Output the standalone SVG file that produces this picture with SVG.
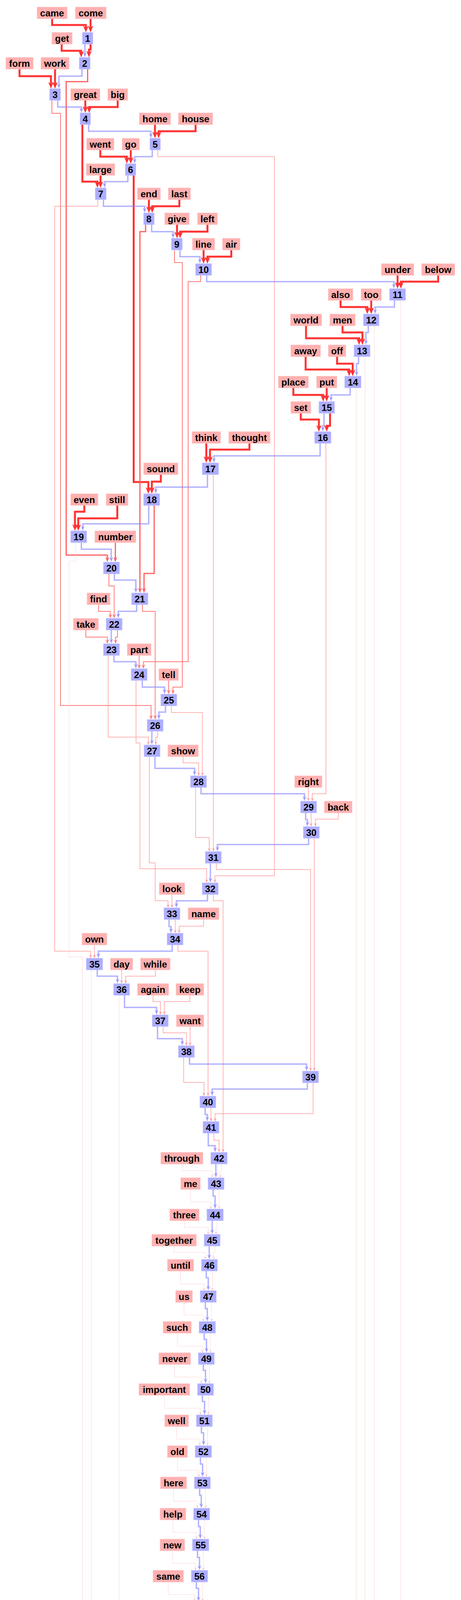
<svg xmlns="http://www.w3.org/2000/svg" width="1181" height="6073" viewBox="0 0 1181 6073">
<style>
.n rect{fill:#adadff;stroke:#c8c8ff;stroke-width:1}
.w rect{fill:#ffb0b0;stroke:#ffc8c8;stroke-width:1}
text{font-family:"Liberation Sans",Arial,sans-serif;font-weight:bold;font-size:24px;text-anchor:middle;fill:#000}
polyline{fill:none;stroke-linejoin:miter}
.e5{stroke:#ff3333;stroke-width:5;marker-end:url(#a5)}
.e3{stroke:#ff5f5f;stroke-width:3;marker-end:url(#a3)}
.e2{stroke:#ff7a7a;stroke-width:2;marker-end:url(#a2)}
.e15{stroke:#ff9c9c;stroke-width:1.5;marker-end:url(#a15)}
.e1{stroke:#ffd2d2;stroke-width:1;marker-end:url(#a1)}
.b{stroke:#7f7fff;stroke-opacity:.6;stroke-width:3.5;marker-end:url(#ab)}
</style>
<defs>
<marker id="a5" viewBox="0 -8 18 16" markerWidth="18" markerHeight="16" refX="9" refY="0" orient="auto" markerUnits="userSpaceOnUse"><path d="M0,-7L17,0L0,7L5,0Z" fill="#ff3333"/></marker>
<marker id="a3" viewBox="0 -6 14 12" markerWidth="14" markerHeight="12" refX="7" refY="0" orient="auto" markerUnits="userSpaceOnUse"><path d="M0,-5L13,0L0,5L4,0Z" fill="#ff5f5f"/></marker>
<marker id="a2" viewBox="0 -5 12 10" markerWidth="12" markerHeight="10" refX="6" refY="0" orient="auto" markerUnits="userSpaceOnUse"><path d="M0,-4.5L11,0L0,4.5L3.5,0Z" fill="#ff7a7a"/></marker>
<marker id="a15" viewBox="0 -4 10 8" markerWidth="10" markerHeight="8" refX="5" refY="0" orient="auto" markerUnits="userSpaceOnUse"><path d="M0,-3.5L9,0L0,3.5L3,0Z" fill="#ff9c9c"/></marker>
<marker id="a1" viewBox="0 -4 9 8" markerWidth="9" markerHeight="8" refX="5" refY="0" orient="auto" markerUnits="userSpaceOnUse"><path d="M0,-3.5L8,0L0,3.5L3,0Z" fill="#ffc8c8"/></marker>
<marker id="ab" viewBox="0 -6 14 12" markerWidth="14" markerHeight="12" refX="7" refY="0" orient="auto" markerUnits="userSpaceOnUse"><path d="M0,-5L13,0L0,5L4,0Z" fill="#7f7fff" fill-opacity=".6"/></marker>
</defs>
<g id="connectors">
<polyline class="e5" points="133.5,48 133.5,64 220,64 220,75"/>
<polyline class="e5" points="232,48 232,75"/>
<polyline class="e5" points="158,113 158,130 208,130 208,139"/>
<polyline class="b" points="217.5,113 217.5,141"/>
<polyline class="e5" points="232,113 232,127 228,127 228,139"/>
<polyline class="e5" points="50,177 50,195 130.5,195 130.5,219"/>
<polyline class="e5" points="141,177 141,219"/>
<polyline class="b" points="210,177 210,195 151,195 151,221"/>
<polyline class="e3" points="224.5,177 224.5,209 169.5,209 169.5,1421 275,1421 275,1433"/>
<polyline class="b" points="148,257 148,274 208.5,274 208.5,283"/>
<polyline class="e5" points="218.5,257 218.5,281"/>
<polyline class="e5" points="301.5,257 301.5,274 228.5,274 228.5,281"/>
<polyline class="e2" points="133,257 133,290 155,290 155,1806 387,1806 387,1837"/>
<polyline class="b" points="227,319 227,336 386.5,336 386.5,348"/>
<polyline class="e5" points="397,319 397,346"/>
<polyline class="e5" points="501,319 501,336 406.5,336 406.5,346"/>
<polyline class="e5" points="211,319 211,465 249.5,465 249.5,473"/>
<polyline class="b" points="390,384 390,401 345,401 345,413"/>
<polyline class="e5" points="257,384 257,401 325,401 325,411"/>
<polyline class="e5" points="335,384 335,411"/>
<polyline class="e15" points="404,384 404,401 703,401 703,2242 550.5,2242 550.5,2256"/>
<polyline class="b" points="327.5,449 327.5,465 268,465 268,475"/>
<polyline class="e5" points="257.5,449 257.5,473"/>
<polyline class="e5" points="342.5,449 342.5,1234 380,1234 380,1256"/>
<polyline class="b" points="265,511 265,528 370.5,528 370.5,539"/>
<polyline class="e5" points="381.5,511 381.5,537"/>
<polyline class="e5" points="459.5,511 459.5,528 390,528 390,537"/>
<polyline class="e15" points="250.5,511 250.5,528 140,528 140,2435 232,2435 232,2449"/>
<polyline class="b" points="388.5,575 388.5,593 443.5,593 443.5,604"/>
<polyline class="e5" points="453.5,575 453.5,602"/>
<polyline class="e5" points="531.5,575 531.5,593 461.5,593 461.5,602"/>
<polyline class="e3" points="373,575 373,593 358.5,593 358.5,1512"/>
<polyline class="b" points="461,640 461,657 512,657 512,669"/>
<polyline class="e5" points="521.5,640 521.5,667"/>
<polyline class="e5" points="592.5,640 592.5,657 531.5,657 531.5,667"/>
<polyline class="e2" points="447,640 447,672 467,672 467,1759 443,1759 443,1772"/>
<polyline class="b" points="529.5,705 529.5,721 1009,721 1009,733"/>
<polyline class="e5" points="1018.5,705 1018.5,731"/>
<polyline class="e5" points="1122.5,705 1122.5,721 1027,721 1027,731"/>
<polyline class="e2" points="514,705 514,721 482,721 482,1694 367.5,1694 367.5,1707"/>
<polyline class="b" points="1010.5,769 1010.5,786 961,786 961,798"/>
<polyline class="e5" points="872.5,769 872.5,786 941,786 941,796"/>
<polyline class="e5" points="951,769 951,796"/>
<polyline class="e1" points="1026,769 1026,5378 702,5378 702,5395"/>
<polyline class="b" points="943.5,834 943.5,851 937.5,851 937.5,877"/>
<polyline class="e5" points="784,834 784,866 920,866 920,875"/>
<polyline class="e5" points="877.5,834 877.5,851 928.5,851 928.5,875"/>
<polyline class="e1" points="959,834 959,5940 890,5940 890,5957"/>
<polyline class="b" points="918.5,913 918.5,931 913.5,931 913.5,957"/>
<polyline class="e5" points="783,913 783,946 894.5,946 894.5,955"/>
<polyline class="e5" points="863.5,913 863.5,931 903.5,931 903.5,955"/>
<polyline class="e1" points="935,913 935,4960 586.5,4960 586.5,4978"/>
<polyline class="b" points="897,993 897,1011 848,1011 848,1022"/>
<polyline class="e5" points="751.5,993 751.5,1011 828,1011 828,1020"/>
<polyline class="e5" points="837,993 837,1020"/>
<polyline class="e1" points="912.5,993 912.5,5634"/>
<polyline class="b" points="830,1058 830,1090 827,1090 827,1099"/>
<polyline class="e5" points="845.5,1058 845.5,1090 837,1090 837,1097"/>
<polyline class="e5" points="770.5,1058 770.5,1074 817,1074 817,1097"/>
<polyline class="b" points="820,1135 820,1167 548,1167 548,1179"/>
<polyline class="e5" points="528.5,1135 528.5,1177"/>
<polyline class="e5" points="639,1135 639,1151 538,1151 538,1177"/>
<polyline class="e15" points="835,1135 835,2032 800,2032 800,2047"/>
<polyline class="e5" points="412,1215 412,1233 389,1233 389,1256"/>
<polyline class="b" points="531.5,1215 531.5,1247 399,1247 399,1258"/>
<polyline class="e15" points="546.5,1215 546.5,2176"/>
<polyline class="b" points="381,1294 381,1341 212,1341 212,1353"/>
<polyline class="e3" points="395,1294 395,1468 369,1468 369,1512"/>
<polyline class="e5" points="216,1294 216,1310 192,1310 192,1351"/>
<polyline class="e5" points="300.5,1294 300.5,1327 200.5,1327 200.5,1351"/>
<polyline class="b" points="208.5,1389 208.5,1406 285,1406 285,1433"/>
<polyline class="e3" points="295.5,1389 295.5,1433"/>
<polyline class="e1" points="194,1389 194,1437 177,1437 177,2450 211.5,2450 211.5,4688 455.5,4688 455.5,4705"/>
<polyline class="b" points="293,1469 293,1485 348,1485 348,1512"/>
<polyline class="e2" points="279,1469 279,1500 292.5,1500 292.5,1578"/>
<polyline class="e2" points="252.5,1548 252.5,1565 282.5,1565 282.5,1578"/>
<polyline class="b" points="350,1548 350,1565 303,1565 303,1577"/>
<polyline class="e2" points="365,1548 365,1565 397.5,1565 397.5,1837"/>
<polyline class="e2" points="220,1613 220,1631 275,1631 275,1643"/>
<polyline class="b" points="285,1613 285,1642"/>
<polyline class="e2" points="301,1613 301,1631 296,1631 296,1643"/>
<polyline class="b" points="292,1678 292,1694 348,1694 348,1706"/>
<polyline class="e2" points="356.5,1678 356.5,1707"/>
<polyline class="e15" points="277,1678 277,1887 380,1887 380,1903"/>
<polyline class="b" points="364.5,1742 364.5,1759 421.5,1759 421.5,1771"/>
<polyline class="e2" points="432,1742 432,1772"/>
<polyline class="e15" points="348.5,1742 348.5,1902 358.5,1902 358.5,2224 529.5,2224 529.5,2256"/>
<polyline class="b" points="424,1807 424,1823 407,1823 407,1836"/>
<polyline class="e15" points="439,1807 439,1824 518.5,1824 518.5,1982"/>
<polyline class="b" points="389,1872 389,1901"/>
<polyline class="e15" points="404,1872 404,1887 399,1887 399,1903"/>
<polyline class="b" points="397,1937 397,1967 498.5,1967 498.5,1980"/>
<polyline class="e15" points="469,1937 469,1953 509,1953 509,1982"/>
<polyline class="e15" points="382.5,1937 382.5,2209 397.5,2209 397.5,2306 430.5,2306 430.5,2320"/>
<polyline class="b" points="515,2016 515,2032 780,2032 780,2045"/>
<polyline class="e15" points="790,2016 790,2047"/>
<polyline class="e15" points="501,2016 501,2144 536,2144 536,2176"/>
<polyline class="b" points="783,2081 783,2098 787.5,2098 787.5,2110"/>
<polyline class="e15" points="797,2081 797,2112"/>
<polyline class="e15" points="866.5,2081 866.5,2097 808,2097 808,2112"/>
<polyline class="b" points="790.5,2146 790.5,2162 557,2162 557,2174"/>
<polyline class="e15" points="805,2146 805,2738"/>
<polyline class="b" points="539,2210 539,2254"/>
<polyline class="e15" points="554,2210 554,2226 795.5,2226 795.5,2738"/>
<polyline class="e15" points="440.5,2290 440.5,2320"/>
<polyline class="b" points="531.5,2290 531.5,2306 452,2306 452,2318"/>
<polyline class="e15" points="546.5,2290 546.5,2306 571.5,2306 571.5,2946"/>
<polyline class="b" points="433,2354 433,2372 438,2372 438,2383"/>
<polyline class="e15" points="449,2354 449,2385"/>
<polyline class="e15" points="521.5,2354 521.5,2371 459,2371 459,2385"/>
<polyline class="e15" points="242,2419 242,2449"/>
<polyline class="b" points="441,2419 441,2435 252,2435 252,2447"/>
<polyline class="e15" points="456,2419 456,2435 533,2435 533,2802"/>
<polyline class="b" points="249,2483 249,2499 301,2499 301,2512"/>
<polyline class="e15" points="311.5,2483 311.5,2514"/>
<polyline class="e15" points="398,2483 398,2499 322,2499 322,2514"/>
<polyline class="e1" points="234,2483 234,4704 434.5,4704 434.5,5236 586.5,5236 586.5,5252"/>
<polyline class="b" points="319,2548 319,2579 401,2579 401,2592"/>
<polyline class="e15" points="392,2548 392,2564 411,2564 411,2594"/>
<polyline class="e15" points="486.5,2548 486.5,2564 421,2564 421,2594"/>
<polyline class="e1" points="305,2548 305,4674 638,4674 638,4896 579,4896 579,4913"/>
<polyline class="b" points="403.5,2628 403.5,2659 467,2659 467,2671"/>
<polyline class="e15" points="418,2628 418,2644 477.5,2644 477.5,2673"/>
<polyline class="e15" points="487,2628 487,2673"/>
<polyline class="b" points="485.5,2707 485.5,2724 785.5,2724 785.5,2736"/>
<polyline class="e15" points="470.5,2707 470.5,2771 522.5,2771 522.5,2802"/>
<polyline class="b" points="787.5,2772 787.5,2788 543.5,2788 543.5,2800"/>
<polyline class="e15" points="802,2772 802,2851 551,2851 551,2867"/>
<polyline class="b" points="525.5,2836 525.5,2853 531,2853 531,2865"/>
<polyline class="e15" points="540.5,2836 540.5,2867"/>
<polyline class="b" points="533.5,2901 533.5,2933 551,2933 551,2944"/>
<polyline class="e15" points="548,2901 548,2919 561,2919 561,2946"/>
<polyline class="b" points="553,2980 553,3009"/>
<polyline class="e1" points="466,2980 466,2997 543.5,2997 543.5,3012"/>
<polyline class="e1" points="567.5,2980 567.5,2997 564,2997 564,3012"/>
<polyline class="b" points="546,3045 546,3062 551,3062 551,3089"/>
<polyline class="e1" points="488,3045 488,3077 540.5,3077 540.5,3092"/>
<polyline class="e1" points="561,3045 561,3092"/>
<polyline class="b" points="543.5,3125 543.5,3154"/>
<polyline class="e1" points="472.5,3125 472.5,3142 533.5,3142 533.5,3157"/>
<polyline class="e1" points="556.5,3125 556.5,3142 553.5,3142 553.5,3157"/>
<polyline class="b" points="536,3190 536,3218"/>
<polyline class="e1" points="446,3190 446,3206 526,3206 526,3221"/>
<polyline class="e1" points="550.5,3190 550.5,3206 546.5,3206 546.5,3221"/>
<polyline class="b" points="528.5,3254 528.5,3271 533.5,3271 533.5,3298"/>
<polyline class="e1" points="462.5,3254 462.5,3287 523,3287 523,3301"/>
<polyline class="e1" points="544,3254 544,3301"/>
<polyline class="b" points="526,3334 526,3350 531,3350 531,3377"/>
<polyline class="e1" points="471.5,3334 471.5,3366 521,3366 521,3380"/>
<polyline class="e1" points="542,3334 542,3380"/>
<polyline class="b" points="523,3413 523,3429 529,3429 529,3457"/>
<polyline class="e1" points="454,3413 454,3446 518.5,3446 518.5,3460"/>
<polyline class="e1" points="539,3413 539,3460"/>
<polyline class="b" points="521,3493 521,3508 526.5,3508 526.5,3536"/>
<polyline class="e1" points="447.5,3493 447.5,3525 516,3525 516,3539"/>
<polyline class="e1" points="536.5,3493 536.5,3539"/>
<polyline class="b" points="518.5,3572 518.5,3588 524,3588 524,3616"/>
<polyline class="e1" points="421,3572 421,3605 513.5,3605 513.5,3619"/>
<polyline class="e1" points="534,3572 534,3619"/>
<polyline class="b" points="516,3652 516,3668 521.5,3668 521.5,3695"/>
<polyline class="e1" points="452.5,3652 452.5,3684 511.5,3684 511.5,3698"/>
<polyline class="e1" points="531.5,3652 531.5,3698"/>
<polyline class="b" points="513.5,3731 513.5,3748 519,3748 519,3775"/>
<polyline class="e1" points="454.5,3731 454.5,3764 509,3764 509,3778"/>
<polyline class="e1" points="529,3731 529,3778"/>
<polyline class="b" points="511.5,3811 511.5,3828 515.5,3828 515.5,3855"/>
<polyline class="e1" points="444.5,3811 444.5,3843 505.5,3843 505.5,3858"/>
<polyline class="e1" points="526.5,3811 526.5,3858"/>
<polyline class="b" points="508.5,3891 508.5,3908 513,3908 513,3934"/>
<polyline class="e1" points="443,3891 443,3923 503,3923 503,3937"/>
<polyline class="e1" points="523,3891 523,3937"/>
<polyline class="b" points="506,3970 506,3987 511,3987 511,4014"/>
<polyline class="e1" points="441.5,3970 441.5,4002 501,4002 501,4017"/>
<polyline class="e1" points="521,3970 521,4017"/>
<polyline class="b" points="503,4050 503,4066 508.5,4066 508.5,4094"/>
<polyline class="e1" points="431,4050 431,4082 498.5,4082 498.5,4097"/>
<polyline class="e1" points="518.5,4050 518.5,4097"/>
<polyline class="b" points="501,4130 501,4146 506,4146 506,4174"/>
<polyline class="e1" points="440.5,4130 440.5,4162 496,4162 496,4177"/>
<polyline class="e1" points="516,4130 516,4177"/>
<polyline class="b" points="498.5,4210 498.5,4226 504,4226 504,4253"/>
<polyline class="e1" points="434,4210 434,4241 493,4241 493,4256"/>
<polyline class="e1" points="513.5,4210 513.5,4256"/>
<polyline class="b" points="495.5,4289 495.5,4305 501,4305 501,4333"/>
<polyline class="e1" points="430.5,4289 430.5,4321 491,4321 491,4336"/>
<polyline class="e1" points="511,4289 511,4336"/>
<polyline class="b" points="493,4369 493,4384 495.5,4384 495.5,4412"/>
<polyline class="e1" points="426,4369 426,4401 485,4401 485,4415"/>
<polyline class="e1" points="508.5,4369 508.5,4401 505.5,4401 505.5,4415"/>
<polyline class="b" points="488,4448 488,4477"/>
<polyline class="e1" points="384.5,4448 384.5,4465 478,4465 478,4480"/>
<polyline class="e1" points="502.5,4448 502.5,4465 498,4465 498,4480"/>
<polyline class="b" points="480.5,4513 480.5,4542"/>
<polyline class="e1" points="419.5,4513 419.5,4530 470.5,4530 470.5,4545"/>
<polyline class="e1" points="495,4513 495,4530 490.5,4530 490.5,4545"/>
<polyline class="b" points="473,4578 473,4606"/>
<polyline class="e1" points="400,4578 400,4594 462.5,4594 462.5,4609"/>
<polyline class="e1" points="488,4578 488,4594 482.5,4594 482.5,4609"/>
<polyline class="b" points="465.5,4642 465.5,4702"/>
<polyline class="e1" points="480.5,4642 480.5,4659 476,4659 476,4705"/>
<polyline class="b" points="458,4738 458,4756 462.5,4756 462.5,4766"/>
<polyline class="e1" points="473,4738 473,4769"/>
<polyline class="e1" points="543.5,4738 543.5,4755 483,4755 483,4769"/>
<polyline class="b" points="465,4802 465,4833 550.5,4833 550.5,4845"/>
<polyline class="e1" points="480.5,4802 480.5,4818 561,4818 561,4848"/>
<polyline class="e1" points="571,4802 571,4848"/>
<polyline class="b" points="553,4881 553,4900 558,4900 558,4910"/>
<polyline class="e1" points="569,4881 569,4913"/>
<polyline class="b" points="561,4946 561,4964 566,4964 566,4975"/>
<polyline class="e1" points="576.5,4946 576.5,4978"/>
<polyline class="b" points="568.5,5011 568.5,5029 573.5,5029 573.5,5040"/>
<polyline class="e1" points="583.5,5011 583.5,5043"/>
<polyline class="e1" points="672.5,5011 672.5,5027 594,5027 594,5043"/>
<polyline class="b" points="576,5076 576,5093 581,5093 581,5104"/>
<polyline class="e1" points="591,5076 591,5107"/>
<polyline class="e1" points="664,5076 664,5092 601,5092 601,5107"/>
<polyline class="b" points="583.5,5140 583.5,5157 589,5157 589,5168"/>
<polyline class="e1" points="599,5140 599,5171"/>
<polyline class="e1" points="665.5,5140 665.5,5156 609,5156 609,5171"/>
<polyline class="b" points="590.5,5204 590.5,5219 596,5219 596,5249"/>
<polyline class="e1" points="606,5204 606,5252"/>
<polyline class="b" points="587.5,5285 587.5,5316 674.5,5316 674.5,5328"/>
<polyline class="e1" points="603,5285 603,5301 684,5301 684,5331"/>
<polyline class="e1" points="693.5,5285 693.5,5331"/>
<polyline class="b" points="677,5364 677,5381 681.5,5381 681.5,5392"/>
<polyline class="e1" points="692,5364 692,5395"/>
<polyline class="b" points="682.5,5428 682.5,5460 770,5460 770,5472"/>
<polyline class="e1" points="698.5,5428 698.5,5445 780,5445 780,5475"/>
<polyline class="e1" points="789,5428 789,5475"/>
<polyline class="b" points="771,5508 771,5540 841,5540 841,5551"/>
<polyline class="e1" points="786,5508 786,5524 851,5524 851,5554"/>
<polyline class="e1" points="861,5508 861,5554"/>
<polyline class="b" points="843,5587 843,5618 892.5,5618 892.5,5631"/>
<polyline class="e1" points="857.5,5587 857.5,5604 902,5604 902,5634"/>
<polyline class="b" points="894.5,5667 894.5,5696"/>
<polyline class="e1" points="909,5667 909,5684 904.5,5684 904.5,5699"/>
<polyline class="e1" points="812,5667 812,5684 884.5,5684 884.5,5699"/>
<polyline class="b" points="887.5,5732 887.5,5760"/>
<polyline class="e1" points="902,5732 902,5748 897.5,5748 897.5,5763"/>
<polyline class="e1" points="825,5732 825,5748 877.5,5748 877.5,5763"/>
<polyline class="b" points="880,5796 880,5825"/>
<polyline class="e1" points="894.5,5796 894.5,5813 890,5813 890,5828"/>
<polyline class="e1" points="793.5,5796 793.5,5813 870,5813 870,5828"/>
<polyline class="b" points="872,5861 872,5890"/>
<polyline class="e1" points="887.5,5861 887.5,5878 883,5878 883,5893"/>
<polyline class="e1" points="790.5,5861 790.5,5878 862,5878 862,5893"/>
<polyline class="b" points="864,5926 864,5940 870,5940 870,5954"/>
<polyline class="e1" points="880,5926 880,5957"/>
<polyline class="b" points="872,5990 872,6007 877,6007 877,6019"/>
<polyline class="e1" points="887.5,5990 887.5,6022"/>
<polyline class="e1" points="960.5,5990 960.5,6007 897,6007 897,6022"/>
</g>
<g id="nodes">
<g id="n1" class="n"><rect x="211" y="83" width="27" height="30"/><text x="224.5" y="107">1</text></g>
<g id="n2" class="n"><rect x="203" y="147" width="28" height="30"/><text x="217" y="171">2</text></g>
<g id="n3" class="n"><rect x="127" y="227" width="28" height="30"/><text x="141" y="251">3</text></g>
<g id="n4" class="n"><rect x="205" y="289" width="27" height="30"/><text x="218.5" y="313">4</text></g>
<g id="n5" class="n"><rect x="384" y="354" width="27" height="30"/><text x="397.5" y="378">5</text></g>
<g id="n6" class="n"><rect x="321" y="419" width="27" height="30"/><text x="334.5" y="443">6</text></g>
<g id="n7" class="n"><rect x="244" y="481" width="28" height="30"/><text x="258" y="505">7</text></g>
<g id="n8" class="n"><rect x="368" y="545" width="27" height="30"/><text x="381.5" y="569">8</text></g>
<g id="n9" class="n"><rect x="439" y="610" width="28" height="30"/><text x="453" y="634">9</text></g>
<g id="n10" class="n"><rect x="501" y="675" width="41" height="30"/><text x="521.5" y="699">10</text></g>
<g id="n11" class="n"><rect x="998" y="739" width="41" height="30"/><text x="1018.5" y="763">11</text></g>
<g id="n12" class="n"><rect x="931" y="804" width="40" height="30"/><text x="951" y="828">12</text></g>
<g id="n13" class="n"><rect x="907" y="883" width="41" height="30"/><text x="927.5" y="907">13</text></g>
<g id="n14" class="n"><rect x="883" y="963" width="42" height="30"/><text x="904" y="987">14</text></g>
<g id="n15" class="n"><rect x="817" y="1028" width="40" height="30"/><text x="837" y="1052">15</text></g>
<g id="n16" class="n"><rect x="806" y="1105" width="42" height="30"/><text x="827" y="1129">16</text></g>
<g id="n17" class="n"><rect x="518" y="1185" width="42" height="30"/><text x="539" y="1209">17</text></g>
<g id="n18" class="n"><rect x="368" y="1264" width="41" height="30"/><text x="388.5" y="1288">18</text></g>
<g id="n19" class="n"><rect x="181" y="1359" width="41" height="30"/><text x="201.5" y="1383">19</text></g>
<g id="n20" class="n"><rect x="265" y="1439" width="41" height="30"/><text x="285.5" y="1463">20</text></g>
<g id="n21" class="n"><rect x="337" y="1518" width="42" height="30"/><text x="358" y="1542">21</text></g>
<g id="n22" class="n"><rect x="272" y="1583" width="41" height="30"/><text x="292.5" y="1607">22</text></g>
<g id="n23" class="n"><rect x="265" y="1648" width="41" height="30"/><text x="285.5" y="1672">23</text></g>
<g id="n24" class="n"><rect x="336" y="1712" width="41" height="30"/><text x="356.5" y="1736">24</text></g>
<g id="n25" class="n"><rect x="412" y="1777" width="41" height="30"/><text x="432.5" y="1801">25</text></g>
<g id="n26" class="n"><rect x="377" y="1842" width="41" height="30"/><text x="397.5" y="1866">26</text></g>
<g id="n27" class="n"><rect x="369" y="1907" width="41" height="30"/><text x="389.5" y="1931">27</text></g>
<g id="n28" class="n"><rect x="488" y="1986" width="41" height="30"/><text x="508.5" y="2010">28</text></g>
<g id="n29" class="n"><rect x="770" y="2051" width="41" height="30"/><text x="790.5" y="2075">29</text></g>
<g id="n30" class="n"><rect x="777" y="2116" width="41" height="30"/><text x="797.5" y="2140">30</text></g>
<g id="n31" class="n"><rect x="526" y="2180" width="41" height="30"/><text x="546.5" y="2204">31</text></g>
<g id="n32" class="n"><rect x="518" y="2260" width="41" height="30"/><text x="538.5" y="2284">32</text></g>
<g id="n33" class="n"><rect x="420" y="2324" width="41" height="30"/><text x="440.5" y="2348">33</text></g>
<g id="n34" class="n"><rect x="428" y="2389" width="41" height="30"/><text x="448.5" y="2413">34</text></g>
<g id="n35" class="n"><rect x="221" y="2453" width="42" height="30"/><text x="242" y="2477">35</text></g>
<g id="n36" class="n"><rect x="291" y="2518" width="41" height="30"/><text x="311.5" y="2542">36</text></g>
<g id="n37" class="n"><rect x="390" y="2598" width="41" height="30"/><text x="410.5" y="2622">37</text></g>
<g id="n38" class="n"><rect x="457" y="2677" width="41" height="30"/><text x="477.5" y="2701">38</text></g>
<g id="n39" class="n"><rect x="775" y="2742" width="41" height="30"/><text x="795.5" y="2766">39</text></g>
<g id="n40" class="n"><rect x="512" y="2806" width="41" height="30"/><text x="532.5" y="2830">40</text></g>
<g id="n41" class="n"><rect x="520" y="2871" width="41" height="30"/><text x="540.5" y="2895">41</text></g>
<g id="n42" class="n"><rect x="540" y="2950" width="42" height="30"/><text x="561" y="2974">42</text></g>
<g id="n43" class="n"><rect x="533" y="3015" width="41" height="30"/><text x="553.5" y="3039">43</text></g>
<g id="n44" class="n"><rect x="530" y="3095" width="42" height="30"/><text x="551" y="3119">44</text></g>
<g id="n45" class="n"><rect x="523" y="3160" width="41" height="30"/><text x="543.5" y="3184">45</text></g>
<g id="n46" class="n"><rect x="516" y="3224" width="41" height="30"/><text x="536.5" y="3248">46</text></g>
<g id="n47" class="n"><rect x="513" y="3304" width="41" height="30"/><text x="533.5" y="3328">47</text></g>
<g id="n48" class="n"><rect x="510" y="3383" width="42" height="30"/><text x="531" y="3407">48</text></g>
<g id="n49" class="n"><rect x="508" y="3463" width="41" height="30"/><text x="528.5" y="3487">49</text></g>
<g id="n50" class="n"><rect x="506" y="3542" width="41" height="30"/><text x="526.5" y="3566">50</text></g>
<g id="n51" class="n"><rect x="503" y="3622" width="41" height="30"/><text x="523.5" y="3646">51</text></g>
<g id="n52" class="n"><rect x="500" y="3701" width="42" height="30"/><text x="521" y="3725">52</text></g>
<g id="n53" class="n"><rect x="498" y="3781" width="41" height="30"/><text x="518.5" y="3805">53</text></g>
<g id="n54" class="n"><rect x="496" y="3861" width="41" height="30"/><text x="516.5" y="3885">54</text></g>
<g id="n55" class="n"><rect x="493" y="3940" width="42" height="30"/><text x="514" y="3964">55</text></g>
<g id="n56" class="n"><rect x="490" y="4020" width="42" height="30"/><text x="511" y="4044">56</text></g>
<g id="n57" class="n"><rect x="488" y="4100" width="41" height="30"/><text x="508.5" y="4124">57</text></g>
<g id="n58" class="n"><rect x="486" y="4180" width="41" height="30"/><text x="506.5" y="4204">58</text></g>
<g id="n59" class="n"><rect x="483" y="4259" width="41" height="30"/><text x="503.5" y="4283">59</text></g>
<g id="n60" class="n"><rect x="480" y="4339" width="42" height="30"/><text x="501" y="4363">60</text></g>
<g id="n61" class="n"><rect x="474" y="4418" width="42" height="30"/><text x="495" y="4442">61</text></g>
<g id="n62" class="n"><rect x="467" y="4483" width="41" height="30"/><text x="487.5" y="4507">62</text></g>
<g id="n63" class="n"><rect x="460" y="4548" width="41" height="30"/><text x="480.5" y="4572">63</text></g>
<g id="n64" class="n"><rect x="452" y="4612" width="42" height="30"/><text x="473" y="4636">64</text></g>
<g id="n65" class="n"><rect x="445" y="4708" width="41" height="30"/><text x="465.5" y="4732">65</text></g>
<g id="n66" class="n"><rect x="452" y="4772" width="42" height="30"/><text x="473" y="4796">66</text></g>
<g id="n67" class="n"><rect x="540" y="4851" width="41" height="30"/><text x="560.5" y="4875">67</text></g>
<g id="n68" class="n"><rect x="547" y="4916" width="42" height="30"/><text x="568" y="4940">68</text></g>
<g id="n69" class="n"><rect x="555" y="4981" width="41" height="30"/><text x="575.5" y="5005">69</text></g>
<g id="n70" class="n"><rect x="562" y="5046" width="42" height="30"/><text x="583" y="5070">70</text></g>
<g id="n71" class="n"><rect x="570" y="5110" width="42" height="30"/><text x="591" y="5134">71</text></g>
<g id="n72" class="n"><rect x="578" y="5174" width="41" height="30"/><text x="598.5" y="5198">72</text></g>
<g id="n73" class="n"><rect x="575" y="5255" width="41" height="30"/><text x="595.5" y="5279">73</text></g>
<g id="n74" class="n"><rect x="663" y="5334" width="41" height="30"/><text x="683.5" y="5358">74</text></g>
<g id="n75" class="n"><rect x="670" y="5398" width="42" height="30"/><text x="691" y="5422">75</text></g>
<g id="n76" class="n"><rect x="758" y="5478" width="42" height="30"/><text x="779" y="5502">76</text></g>
<g id="n77" class="n"><rect x="831" y="5557" width="41" height="30"/><text x="851.5" y="5581">77</text></g>
<g id="n78" class="n"><rect x="882" y="5637" width="41" height="30"/><text x="902.5" y="5661">78</text></g>
<g id="n79" class="n"><rect x="874" y="5702" width="42" height="30"/><text x="895" y="5726">79</text></g>
<g id="n80" class="n"><rect x="866" y="5766" width="42" height="30"/><text x="887" y="5790">80</text></g>
<g id="n81" class="n"><rect x="859" y="5831" width="41" height="30"/><text x="879.5" y="5855">81</text></g>
<g id="n82" class="n"><rect x="852" y="5896" width="41" height="30"/><text x="872.5" y="5920">82</text></g>
<g id="n83" class="n"><rect x="859" y="5960" width="41" height="30"/><text x="879.5" y="5984">83</text></g>
<g id="n84" class="n"><rect x="866" y="6025" width="42" height="30"/><text x="887" y="6049">84</text></g>
<g id="w-came" class="w"><rect x="95" y="18" width="77" height="30"/><text x="133.5" y="42">came</text></g>
<g id="w-come" class="w"><rect x="193" y="18" width="79" height="30"/><text x="232.5" y="42">come</text></g>
<g id="w-get" class="w"><rect x="133" y="83" width="52" height="30"/><text x="159" y="107">get</text></g>
<g id="w-form" class="w"><rect x="15" y="147" width="70" height="30"/><text x="50" y="171">form</text></g>
<g id="w-work" class="w"><rect x="105" y="147" width="72" height="30"/><text x="141" y="171">work</text></g>
<g id="w-great" class="w"><rect x="181" y="227" width="75" height="30"/><text x="218.5" y="251">great</text></g>
<g id="w-big" class="w"><rect x="276" y="227" width="51" height="30"/><text x="301.5" y="251">big</text></g>
<g id="w-home" class="w"><rect x="357" y="289" width="80" height="30"/><text x="397" y="313">home</text></g>
<g id="w-house" class="w"><rect x="457" y="289" width="88" height="30"/><text x="501" y="313">house</text></g>
<g id="w-went" class="w"><rect x="222" y="354" width="70" height="30"/><text x="257" y="378">went</text></g>
<g id="w-go" class="w"><rect x="313" y="354" width="44" height="30"/><text x="335" y="378">go</text></g>
<g id="w-large" class="w"><rect x="221" y="419" width="73" height="30"/><text x="257.5" y="443">large</text></g>
<g id="w-end" class="w"><rect x="352" y="481" width="59" height="30"/><text x="381.5" y="505">end</text></g>
<g id="w-last" class="w"><rect x="431" y="481" width="57" height="30"/><text x="459.5" y="505">last</text></g>
<g id="w-give" class="w"><rect x="422" y="545" width="63" height="30"/><text x="453.5" y="569">give</text></g>
<g id="w-left" class="w"><rect x="506" y="545" width="51" height="30"/><text x="531.5" y="569">left</text></g>
<g id="w-line" class="w"><rect x="493" y="610" width="57" height="30"/><text x="521.5" y="634">line</text></g>
<g id="w-air" class="w"><rect x="570" y="610" width="45" height="30"/><text x="592.5" y="634">air</text></g>
<g id="w-under" class="w"><rect x="977" y="675" width="83" height="30"/><text x="1018.5" y="699">under</text></g>
<g id="w-below" class="w"><rect x="1080" y="675" width="85" height="30"/><text x="1122.5" y="699">below</text></g>
<g id="w-also" class="w"><rect x="841" y="739" width="63" height="30"/><text x="872.5" y="763">also</text></g>
<g id="w-too" class="w"><rect x="925" y="739" width="52" height="30"/><text x="951" y="763">too</text></g>
<g id="w-world" class="w"><rect x="744" y="804" width="80" height="30"/><text x="784" y="828">world</text></g>
<g id="w-men" class="w"><rect x="845" y="804" width="65" height="30"/><text x="877.5" y="828">men</text></g>
<g id="w-away" class="w"><rect x="745" y="883" width="76" height="30"/><text x="783" y="907">away</text></g>
<g id="w-off" class="w"><rect x="841" y="883" width="45" height="30"/><text x="863.5" y="907">off</text></g>
<g id="w-place" class="w"><rect x="713" y="963" width="77" height="30"/><text x="751.5" y="987">place</text></g>
<g id="w-put" class="w"><rect x="811" y="963" width="52" height="30"/><text x="837" y="987">put</text></g>
<g id="w-set" class="w"><rect x="745" y="1028" width="51" height="30"/><text x="770.5" y="1052">set</text></g>
<g id="w-think" class="w"><rect x="492" y="1105" width="73" height="30"/><text x="528.5" y="1129">think</text></g>
<g id="w-thought" class="w"><rect x="586" y="1105" width="106" height="30"/><text x="639" y="1129">thought</text></g>
<g id="w-sound" class="w"><rect x="368" y="1185" width="88" height="30"/><text x="412" y="1209">sound</text></g>
<g id="w-even" class="w"><rect x="181" y="1264" width="70" height="30"/><text x="216" y="1288">even</text></g>
<g id="w-still" class="w"><rect x="272" y="1264" width="56" height="30"/><text x="300" y="1288">still</text></g>
<g id="w-number" class="w"><rect x="243" y="1359" width="105" height="30"/><text x="295.5" y="1383">number</text></g>
<g id="w-find" class="w"><rect x="223" y="1518" width="59" height="30"/><text x="252.5" y="1542">find</text></g>
<g id="w-take" class="w"><rect x="188" y="1583" width="64" height="30"/><text x="220" y="1607">take</text></g>
<g id="w-part" class="w"><rect x="326" y="1648" width="61" height="30"/><text x="356.5" y="1672">part</text></g>
<g id="w-tell" class="w"><rect x="407" y="1712" width="50" height="30"/><text x="432" y="1736">tell</text></g>
<g id="w-show" class="w"><rect x="430" y="1907" width="78" height="30"/><text x="469" y="1931">show</text></g>
<g id="w-right" class="w"><rect x="755" y="1986" width="70" height="30"/><text x="790" y="2010">right</text></g>
<g id="w-back" class="w"><rect x="831" y="2051" width="71" height="30"/><text x="866.5" y="2075">back</text></g>
<g id="w-look" class="w"><rect x="408" y="2260" width="65" height="30"/><text x="440.5" y="2284">look</text></g>
<g id="w-name" class="w"><rect x="482" y="2324" width="79" height="30"/><text x="521.5" y="2348">name</text></g>
<g id="w-own" class="w"><rect x="210" y="2389" width="64" height="30"/><text x="242" y="2413">own</text></g>
<g id="w-day" class="w"><rect x="283" y="2453" width="57" height="30"/><text x="311.5" y="2477">day</text></g>
<g id="w-while" class="w"><rect x="360" y="2453" width="76" height="30"/><text x="398" y="2477">while</text></g>
<g id="w-again" class="w"><rect x="352" y="2518" width="80" height="30"/><text x="392" y="2542">again</text></g>
<g id="w-keep" class="w"><rect x="451" y="2518" width="71" height="30"/><text x="486.5" y="2542">keep</text></g>
<g id="w-want" class="w"><rect x="452" y="2598" width="70" height="30"/><text x="487" y="2622">want</text></g>
<g id="w-through" class="w"><rect x="412" y="2950" width="108" height="30"/><text x="466" y="2974">through</text></g>
<g id="w-me" class="w"><rect x="463" y="3015" width="50" height="30"/><text x="488" y="3039">me</text></g>
<g id="w-three" class="w"><rect x="435" y="3095" width="75" height="30"/><text x="472.5" y="3119">three</text></g>
<g id="w-together" class="w"><rect x="389" y="3160" width="114" height="30"/><text x="446" y="3184">together</text></g>
<g id="w-until" class="w"><rect x="429" y="3224" width="67" height="30"/><text x="462.5" y="3248">until</text></g>
<g id="w-us" class="w"><rect x="450" y="3304" width="43" height="30"/><text x="471.5" y="3328">us</text></g>
<g id="w-such" class="w"><rect x="418" y="3383" width="72" height="30"/><text x="454" y="3407">such</text></g>
<g id="w-never" class="w"><rect x="407" y="3463" width="81" height="30"/><text x="447.5" y="3487">never</text></g>
<g id="w-important" class="w"><rect x="356" y="3542" width="130" height="30"/><text x="421" y="3566">important</text></g>
<g id="w-well" class="w"><rect x="422" y="3622" width="61" height="30"/><text x="452.5" y="3646">well</text></g>
<g id="w-old" class="w"><rect x="429" y="3701" width="51" height="30"/><text x="454.5" y="3725">old</text></g>
<g id="w-here" class="w"><rect x="411" y="3781" width="67" height="30"/><text x="444.5" y="3805">here</text></g>
<g id="w-help" class="w"><rect x="410" y="3861" width="66" height="30"/><text x="443" y="3885">help</text></g>
<g id="w-new" class="w"><rect x="410" y="3940" width="63" height="30"/><text x="441.5" y="3964">new</text></g>
<g id="w-same" class="w"><rect x="392" y="4020" width="78" height="30"/><text x="431" y="4044">same</text></g>
<g id="w-our" class="w"><rect x="413" y="4100" width="55" height="30"/><text x="440.5" y="4124">our</text></g>
<g id="w-why" class="w"><rect x="402" y="4180" width="64" height="30"/><text x="434" y="4204">why</text></g>
<g id="w-next" class="w"><rect x="398" y="4259" width="65" height="30"/><text x="430.5" y="4283">next</text></g>
<g id="w-food" class="w"><rect x="392" y="4339" width="68" height="30"/><text x="426" y="4363">food</text></g>
<g id="w-something" class="w"><rect x="314" y="4418" width="141" height="30"/><text x="384.5" y="4442">something</text></g>
<g id="w-few" class="w"><rect x="392" y="4483" width="55" height="30"/><text x="419.5" y="4507">few</text></g>
<g id="w-every" class="w"><rect x="360" y="4548" width="80" height="30"/><text x="400" y="4572">every</text></g>
<g id="w-must" class="w"><rect x="507" y="4708" width="73" height="30"/><text x="543.5" y="4732">must</text></g>
<g id="w-different" class="w"><rect x="514" y="4772" width="114" height="30"/><text x="571" y="4796">different</text></g>
<g id="w-children" class="w"><rect x="617" y="4981" width="111" height="30"/><text x="672.5" y="5005">children</text></g>
<g id="w-much" class="w"><rect x="624" y="5046" width="80" height="30"/><text x="664" y="5070">much</text></g>
<g id="w-both" class="w"><rect x="632" y="5110" width="67" height="30"/><text x="665.5" y="5134">both</text></g>
<g id="w-between" class="w"><rect x="637" y="5255" width="113" height="30"/><text x="693.5" y="5279">between</text></g>
<g id="w-because" class="w"><rect x="732" y="5398" width="114" height="30"/><text x="789" y="5422">because</text></g>
<g id="w-might" class="w"><rect x="820" y="5478" width="82" height="30"/><text x="861" y="5502">might</text></g>
<g id="w-around" class="w"><rect x="763" y="5637" width="98" height="30"/><text x="812" y="5661">around</text></g>
<g id="w-any" class="w"><rect x="797" y="5702" width="56" height="30"/><text x="825" y="5726">any</text></g>
<g id="w-another" class="w"><rect x="741" y="5766" width="105" height="30"/><text x="793.5" y="5790">another</text></g>
<g id="w-always" class="w"><rect x="743" y="5831" width="95" height="30"/><text x="790.5" y="5855">always</text></g>
<g id="w-along" class="w"><rect x="920" y="5960" width="81" height="30"/><text x="960.5" y="5984">along</text></g>
</g>
</svg>
